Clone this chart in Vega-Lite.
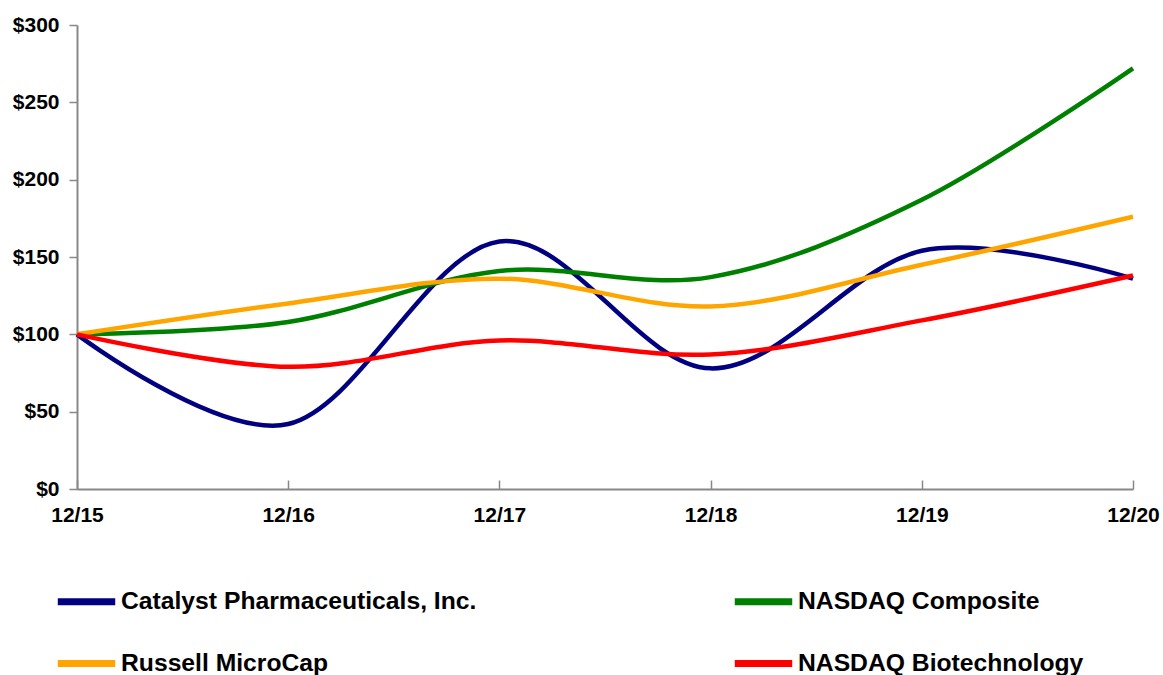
{
  "$schema": "https://vega.github.io/schema/vega-lite/v6.json",
  "autosize": {"type": "none"},
  "width": 1056,
  "height": 464,
  "padding": {"left": 77, "top": 25, "right": 30, "bottom": 186},
  "background": "white",
  "config": {
    "view": {"stroke": null},
    "font": "Liberation Sans"
  },
  "data": {
    "values": [
      {"period": "12/15", "series": "Catalyst Pharmaceuticals, Inc.", "value": 100},
      {"period": "12/16", "series": "Catalyst Pharmaceuticals, Inc.", "value": 42},
      {"period": "12/17", "series": "Catalyst Pharmaceuticals, Inc.", "value": 160},
      {"period": "12/18", "series": "Catalyst Pharmaceuticals, Inc.", "value": 78},
      {"period": "12/19", "series": "Catalyst Pharmaceuticals, Inc.", "value": 154},
      {"period": "12/20", "series": "Catalyst Pharmaceuticals, Inc.", "value": 136},
      {"period": "12/15", "series": "NASDAQ Composite", "value": 100},
      {"period": "12/16", "series": "NASDAQ Composite", "value": 108},
      {"period": "12/17", "series": "NASDAQ Composite", "value": 141},
      {"period": "12/18", "series": "NASDAQ Composite", "value": 137},
      {"period": "12/19", "series": "NASDAQ Composite", "value": 187},
      {"period": "12/20", "series": "NASDAQ Composite", "value": 272},
      {"period": "12/15", "series": "Russell MicroCap", "value": 100},
      {"period": "12/16", "series": "Russell MicroCap", "value": 120},
      {"period": "12/17", "series": "Russell MicroCap", "value": 136},
      {"period": "12/18", "series": "Russell MicroCap", "value": 118},
      {"period": "12/19", "series": "Russell MicroCap", "value": 145},
      {"period": "12/20", "series": "Russell MicroCap", "value": 176},
      {"period": "12/15", "series": "NASDAQ Biotechnology", "value": 100},
      {"period": "12/16", "series": "NASDAQ Biotechnology", "value": 79},
      {"period": "12/17", "series": "NASDAQ Biotechnology", "value": 96},
      {"period": "12/18", "series": "NASDAQ Biotechnology", "value": 87},
      {"period": "12/19", "series": "NASDAQ Biotechnology", "value": 109},
      {"period": "12/20", "series": "NASDAQ Biotechnology", "value": 138}
    ]
  },
  "mark": {"type": "line", "interpolate": "cardinal", "tension": 0, "strokeWidth": 4.5},
  "encoding": {
    "x": {
      "field": "period",
      "type": "ordinal",
      "scale": {"type": "point", "padding": 0},
      "axis": {
        "title": null,
        "labelAngle": 0,
        "labelFont": "Liberation Sans",
        "labelFontWeight": "bold",
        "labelFontSize": 21,
        "labelColor": "black",
        "labelPadding": 24,
        "domainColor": "#888888",
        "domainWidth": 2,
        "tickColor": "#888888",
        "tickWidth": 1.5,
        "tickSize": -9,
        "grid": false
      }
    },
    "y": {
      "field": "value",
      "type": "quantitative",
      "scale": {"domain": [0, 300], "nice": false},
      "axis": {
        "title": null,
        "values": [0, 50, 100, 150, 200, 250, 300],
        "format": "$.0f",
        "labelFont": "Liberation Sans",
        "labelFontWeight": "bold",
        "labelFontSize": 21,
        "labelColor": "black",
        "labelPadding": 10,
        "domainColor": "#888888",
        "domainWidth": 2,
        "tickColor": "#888888",
        "tickWidth": 1.5,
        "tickSize": 8,
        "grid": false
      }
    },
    "color": {
      "field": "series",
      "type": "nominal",
      "scale": {
        "domain": ["Catalyst Pharmaceuticals, Inc.", "Russell MicroCap", "NASDAQ Composite", "NASDAQ Biotechnology"],
        "range": ["#000080", "#FFA500", "#008000", "#FF0000"]
      },
      "legend": {
        "title": null,
        "orient": "none",
        "legendX": -23,
        "legendY": 544,
        "columns": 2,
        "columnPadding": 243,
        "rowPadding": 15,
        "symbolType": "stroke",
        "symbolSize": 3300,
        "symbolStrokeWidth": 7,
        "labelFont": "Liberation Sans",
        "labelFontWeight": "bold",
        "labelFontSize": 24.7,
        "labelColor": "black",
        "labelOffset": 2,
        "labelLimit": 600
      }
    }
  }
}
